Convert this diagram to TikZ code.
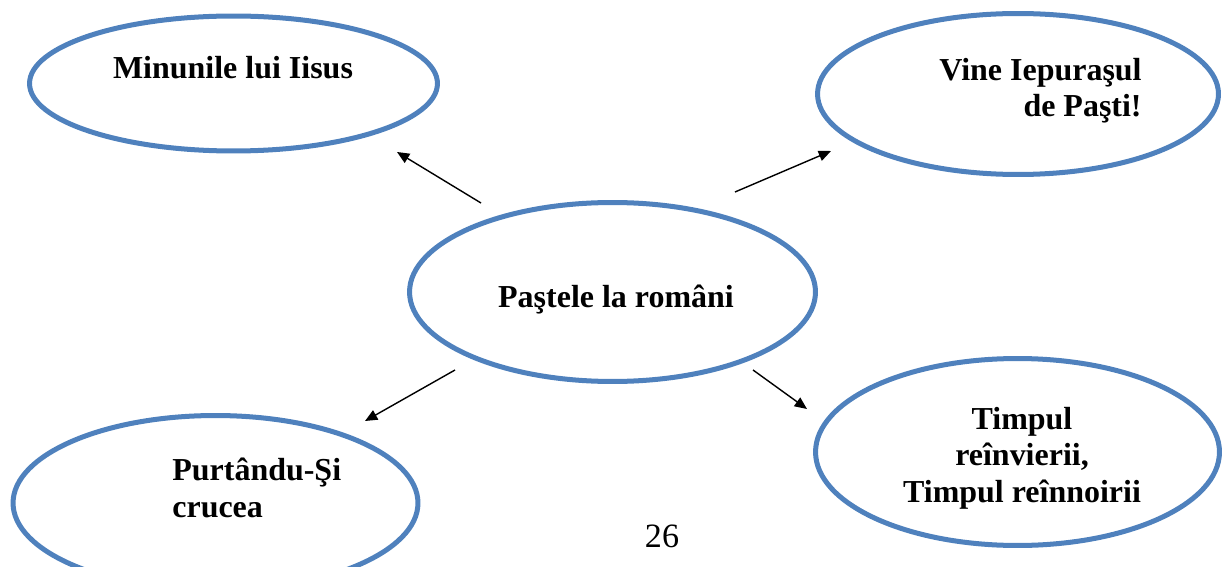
\documentclass[tikz,border=0pt]{standalone}
\usepackage{fontspec}
\setmainfont{Liberation Serif}
\usetikzlibrary{shapes,arrows.meta}

\definecolor{ovalblue}{RGB}{79,129,189}

\tikzset{
  oval/.style={ellipse, draw=ovalblue, line width=2.85pt, inner sep=0pt},
  word/.style={font=\bfseries\fontsize{18.2}{20.5}\selectfont, inner sep=0pt},
  link/.style={-{Triangle[length=7pt,width=6pt]}, line width=0.8pt}
}

\begin{document}
\begin{tikzpicture}[x=0.02cm, y=-0.02cm]
\useasboundingbox (0,0) rectangle (1222,567);

% ovals
\node[oval, minimum width=8.16cm, minimum height=2.7cm] (miracles) at (233.5,83.5) {};
\node[oval, minimum width=8.02cm, minimum height=3.22cm] (bunny) at (1018,94) {};
\node[oval, minimum width=8.12cm, minimum height=3.58cm] (easter) at (612.5,292) {};
\node[oval, minimum width=8.08cm, minimum height=3.74cm] (renewal) at (1017.5,452) {};
\node[oval, minimum width=8.1cm, minimum height=3.5cm] (cross) at (215.5,503) {};

% texts (base = last line)
\node[word, anchor=base] (tmiracles) at (233,79) {Minunile lui Iisus};
\node[word, anchor=base east, align=right] (tbunny) at (1142,117) {Vine Iepuraşul\\de Paşti!};
\node[word, anchor=base] (teaster) at (616,307) {Paştele la români};
\node[word, anchor=base, align=center] (trenewal) at (1022,502) {Timpul\\reînvierii,\\Timpul reînnoirii};
\node[word, anchor=base west, align=left] (tcross) at (172,517) {Purtându-Şi\\crucea};
\node[font=\fontsize{19.4}{22}\selectfont, inner sep=0pt, anchor=base] (page) at (662,547) {26};

% arrows
\coordinate (a1) at (481,203);
\coordinate (b1) at (397,152);
\coordinate (a2) at (735,192);
\coordinate (b2) at (831,151);
\coordinate (a3) at (455,370);
\coordinate (b3) at (365,421);
\coordinate (a4) at (753,370);
\coordinate (b4) at (807,409);
\draw[link] (a1) -- (b1);
\draw[link] (a2) -- (b2);
\draw[link] (a3) -- (b3);
\draw[link] (a4) -- (b4);
\end{tikzpicture}
\end{document}
